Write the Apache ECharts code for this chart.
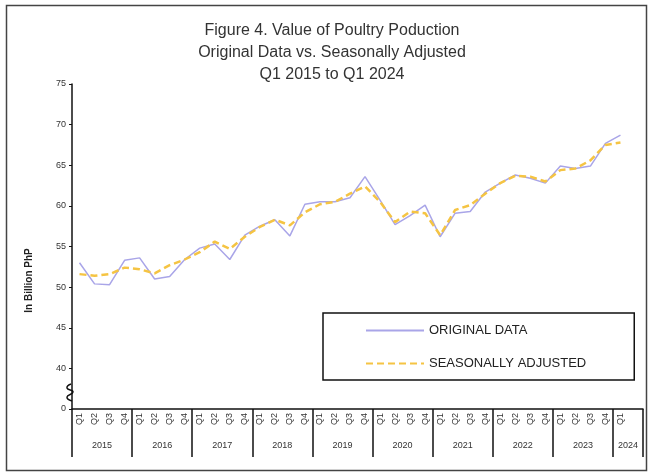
<!DOCTYPE html>
<html>
<head>
<meta charset="utf-8">
<script src="https://cdn.jsdelivr.net/npm/echarts@6/dist/echarts.min.js"></script>
<style>
html, body { margin: 0; padding: 0; background: #fff; }
#main { width: 648px; height: 474px; }
</style>
</head>
<body>
<div id="main"></div>
<script>
var myChart = echarts.init(document.getElementById('main'));

var years = ['2015', '2016', '2017', '2018', '2019', '2020', '2021', '2022', '2023', '2024'];
var quarterNames = ['Q1', 'Q2', 'Q3', 'Q4'];

// Q1 2015 .. Q1 2024, in billion PhP
var originalData = [
  53.0, 50.4, 50.3, 53.3,
  53.6, 51.0, 51.3, 53.4,
  54.8, 55.3, 53.4, 56.4,
  57.5, 58.3, 56.3, 60.2,
  60.5, 60.5, 61.0, 63.6,
  60.7, 57.7, 58.8, 60.1,
  56.2, 59.1, 59.3, 61.7,
  62.8, 63.8, 63.4, 62.8,
  64.9, 64.6, 64.9, 67.7,
  68.7
];
var adjustedData = [
  51.6, 51.4, 51.6, 52.4,
  52.2, 51.7, 52.7, 53.4,
  54.3, 55.6, 54.7, 56.2,
  57.4, 58.3, 57.6, 59.2,
  60.2, 60.5, 61.5, 62.4,
  60.5, 58.0, 59.3, 59.1,
  56.4, 59.5, 60.1, 61.5,
  62.8, 63.7, 63.6, 63.0,
  64.4, 64.6, 65.6, 67.5,
  67.8
];

// quarter categories: 4 per year, 2024 only Q1 (+ one empty slot like the original)
var categories = [];
years.forEach(function (y, i) {
  if (i < years.length - 1) {
    quarterNames.forEach(function (q) { categories.push(q); });
  } else {
    categories.push('Q1');
    categories.push('');
  }
});

var lineFont = 'Liberation Sans, Arial, sans-serif';

var option = {
  animation: false,
  backgroundColor: '#fff',
  title: {
    text: 'Figure 4. Value of Poultry Poduction\nOriginal Data vs. Seasonally Adjusted\nQ1 2015 to Q1 2024',
    left: 327,
    textAlign: 'center',
    top: 15,
    textStyle: {
      fontFamily: lineFont,
      fontSize: 16,
      fontWeight: 'normal',
      color: '#333',
      lineHeight: 22
    }
  },
  legend: {
    orient: 'vertical',
    left: 323,
    top: 313,
    itemWidth: 58,
    itemHeight: 14,
    itemGap: 20,
    padding: [11, 48, 10, 42],
    borderColor: '#111',
    borderWidth: 1.5,
    itemStyle: { color: 'rgba(0,0,0,0)', opacity: 0, borderWidth: 0 },
    textStyle: { fontFamily: lineFont, fontSize: 13, color: '#222' },
    data: ['ORIGINAL DATA', 'SEASONALLY ADJUSTED']
  },
  grid: { left: 72, right: 5, top: 84, bottom: 65 },
  xAxis: [
    {
      type: 'category',
      data: categories,
      boundaryGap: true,
      axisLine: { lineStyle: { color: '#111', width: 1.5 } },
      axisTick: { show: false },
      axisLabel: {
        interval: 0,
        rotate: 90,
        margin: 4,
        fontFamily: lineFont,
        fontSize: 9,
        color: '#333'
      }
    },
    {
      // year labels, centred on each year's block of quarters
      type: 'value',
      min: 0,
      max: categories.length,
      interval: 1,
      position: 'bottom',
      axisLine: { show: false },
      axisTick: { show: false },
      splitLine: { show: false },
      axisLabel: {
        margin: 32,
        fontFamily: lineFont,
        fontSize: 9,
        color: '#333',
        formatter: function (v) {
          if (v === 37) return years[9];
          if (v % 4 === 2 && v < 36) return years[(v - 2) / 4];
          return '';
        }
      }
    },
    {
      // year dividers
      type: 'value',
      min: 0,
      max: categories.length,
      interval: 4,
      position: 'bottom',
      axisLine: { show: false },
      axisLabel: { show: false },
      splitLine: { show: false },
      axisTick: { show: true, length: 48, lineStyle: { color: '#111', width: 1.5 } }
    }
  ],
  yAxis: {
    type: 'value',
    min: 35,
    max: 75,
    interval: 5,
    name: 'In Billion PhP',
    nameLocation: 'middle',
    nameGap: 38,
    nameTextStyle: {
      fontFamily: lineFont,
      fontSize: 10,
      fontWeight: 'bold',
      color: '#222',
      padding: [0, 68, 0, 0]
    },
    axisLine: { show: true, lineStyle: { color: '#111', width: 1.5 } },
    axisTick: { show: true, length: 3, lineStyle: { color: '#111' } },
    splitLine: { show: false },
    axisLabel: {
      margin: 6,
      fontFamily: lineFont,
      fontSize: 9,
      color: '#333',
      formatter: function (v) { return v === 35 ? '0' : String(v); }
    }
  },
  series: [
    {
      name: 'ORIGINAL DATA',
      type: 'line',
      symbol: 'none',
      data: originalData,
      itemStyle: { color: '#a9a5e8' },
      lineStyle: { color: '#a9a5e8', width: 1.5 }
    },
    {
      name: 'SEASONALLY ADJUSTED',
      type: 'line',
      symbol: 'none',
      data: adjustedData,
      itemStyle: { color: '#f5c443' },
      lineStyle: { color: '#f5c443', width: 2.5, type: [7, 4] }
    }
  ],
  graphic: [
    {
      type: 'rect',
      left: 4,
      top: 3,
      shape: { width: 640, height: 465 },
      style: { fill: 'none', stroke: '#444', lineWidth: 1.5 },
      silent: true
    },
    {
      // axis break mark
      type: 'polyline',
      shape: {
        points: [[71, 384], [67, 388], [73, 392], [67, 397], [72, 401]],
        smooth: 0.6
      },
      style: { fill: 'none', stroke: '#111', lineWidth: 1.5 },
      silent: true
    }
  ]
};

myChart.setOption(option);
</script>
</body>
</html>
